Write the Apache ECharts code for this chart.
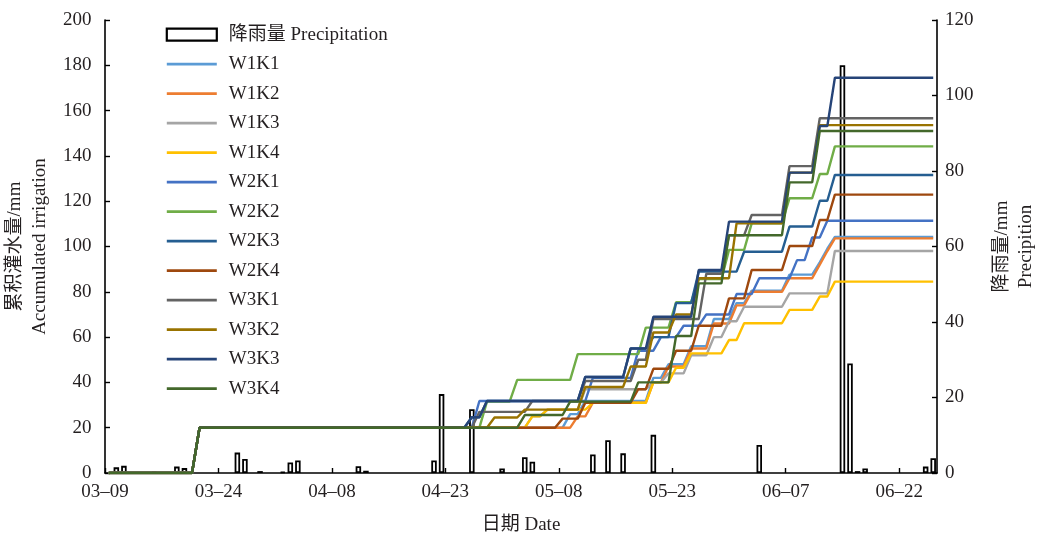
<!DOCTYPE html>
<html>
<head>
<meta charset="utf-8">
<script src="https://cdn.jsdelivr.net/npm/echarts@6.0.0/dist/echarts.min.js"></script>
<style>
html,body{margin:0;padding:0;background:#fff;}
#chart{width:1044px;height:533px;}
</style>
</head>
<body>
<div id="chart"></div>
<script>
// ---------------- DATA ----------------
const startDate = '03-09';
const endDate = '06-26';
const xTickLabels = ['03\u201309','03\u201324','04\u201308','04\u201323','05\u201308','05\u201323','06\u201307','06\u201322'];
const tickStepDays = 15;

const precipDates = ['03-10','03-11','03-15','03-18','03-19','03-26','03-27','03-29','04-01','04-02','04-03','04-11','04-12','04-21','04-22','04-26','04-30','05-03','05-04','05-12','05-14','05-16','05-20','06-03','06-14','06-15','06-16','06-17','06-25','06-26'];
const precipValues = [1.5,1.9,0.3,1.7,1.3,5.4,3.7,0.5,0.3,2.8,3.3,1.8,0.6,3.3,20.9,16.9,1.2,4.2,3.0,4.9,8.7,5.2,10.1,7.4,108,29,0.5,1.2,1.7,3.9];

// cumulative irrigation: [date of new level, new level]; starts at 0
const W1K1 = [['03-21',20],['05-09',26],['05-11',31.8],['05-20',42],['05-22',48],['05-25',56],['05-28',68],['05-31',75],['06-02',80.5],['06-07',87.6],['06-11',93],['06-12',99],['06-13',104.2]];
const W1K2 = [['03-21',20],['05-10',25],['05-12',31],['05-20',40],['05-22',47],['05-25',55],['05-28',66],['05-31',74],['06-02',80],['06-07',86],['06-11',92],['06-12',98],['06-13',103.6]];
const W1K3 = [['03-21',20],['05-04',25],['05-06',28],['05-11',37],['05-20',40],['05-22',44],['05-25',52],['05-28',60],['05-30',67],['06-01',73.4],['06-07',79.3],['06-13',98]];
const W1K4 = [['03-21',20],['05-04',25],['05-06',28],['05-12',31],['05-20',40],['05-23',46.5],['05-25',52.8],['05-30',58.7],['06-01',66.1],['06-07',72],['06-11',77.9],['06-13',84.5]];
const W2K1 = [['03-21',20],['04-27',31.8],['05-12',42],['05-18',54],['05-21',60],['05-24',65],['05-27',70],['05-31',79],['06-03',86],['06-08',94],['06-10',104],['06-12',111.4]];
const W2K2 = [['03-21',20],['04-28',31.5],['05-02',41.1],['05-10',52.5],['05-19',64.2],['05-23',75.4],['05-26',85.6],['05-30',98.5],['06-02',110.2],['06-07',121.3],['06-11',132],['06-13',144.2]];
const W2K3 = [['03-21',20],['04-26',24.6],['04-28',31.8],['05-11',42.4],['05-17',55],['05-20',60],['05-23',75],['05-26',88.9],['06-01',97.7],['06-07',108.8],['06-11',120.2],['06-13',131.6]];
const W2K4 = [['03-21',20],['05-08',24],['05-11',31],['05-18',37],['05-20',46],['05-23',54],['05-26',65],['05-30',77.1],['06-02',89.6],['06-07',100.2],['06-11',111.7],['06-13',122.9]];
const W3K1 = [['03-21',20],['04-27',27],['05-04',31.8],['05-11',40.6],['05-18',50],['05-20',68],['05-27',88],['05-30',105],['06-02',113.9],['06-07',135.5],['06-11',156.6]];
const W3K2 = [['03-21',20],['04-29',24.5],['05-03',28],['05-11',38],['05-17',47],['05-20',62],['05-23',70],['05-26',86],['05-31',110.2],['06-07',132.6],['06-11',153.6]];
const W3K3 = [['03-21',20],['04-26',24.6],['04-28',31.8],['05-11',42.4],['05-17',55],['05-20',69],['05-26',89.6],['05-30',111],['06-07',132.6],['06-11',153.2],['06-13',174.5]];
const W3K4 = [['03-21',20],['05-03',25.6],['05-09',31.5],['05-18',40],['05-23',60.5],['05-26',83.7],['05-30',105],['06-07',128.3],['06-11',151]];

const lineNames = ['W1K1','W1K2','W1K3','W1K4','W2K1','W2K2','W2K3','W2K4','W3K1','W3K2','W3K3','W3K4'];
const lineData = [W1K1,W1K2,W1K3,W1K4,W2K1,W2K2,W2K3,W2K4,W3K1,W3K2,W3K3,W3K4];
const lineColors = ['#5B9BD5','#ED7D31','#A5A5A5','#FFC000','#4472C4','#70AD47','#255E91','#9E480E','#636363','#997300','#264478','#43682B'];
const precipName = '降雨量 Precipitation';

// ---------------- HELPERS ----------------
function dayIndex(md){
  const [m,d] = md.split('-').map(Number);
  const [m0,d0] = startDate.split('-').map(Number);
  return Math.round((Date.UTC(2001,m-1,d) - Date.UTC(2001,m0-1,d0)) / 86400000);
}
const lastDay = dayIndex(endDate);
function stepPoints(changes){
  const pts = [[0.5,0]];
  let prev = 0;
  changes.forEach(([md,v])=>{
    const k = dayIndex(md);
    pts.push([k-1+0.5, prev]);
    pts.push([k+0.5, v]);
    prev = v;
  });
  pts.push([lastDay+0.5, prev]);
  return pts;
}

const FONT = '"Liberation Serif","Times New Roman","Noto Sans CJK SC",serif';
const TXT = '#231f20';
const LEGEND_LINE_ICON = 'path://M0,0H50V2.8H0Z';

const series = [{
  name: precipName,
  type: 'bar',
  yAxisIndex: 1,
  barWidth: 5.5,
  itemStyle: {color:'#ffffff', borderColor:'#000000', borderWidth:1.8},
  data: precipDates.map((d,i)=>[dayIndex(d)+0.5, precipValues[i]]),
  z: 1
}];
lineNames.forEach((n,i)=>{
  series.push({
    name:n, type:'line', symbol:'none', showSymbol:false,
    lineStyle:{width:2.4, color:lineColors[i]},
    itemStyle:{color:lineColors[i]},
    data: stepPoints(lineData[i]),
    z: 2+i
  });
});

const chart = echarts.init(document.getElementById('chart'), null, {renderer:'canvas'});
chart.setOption({
  animation:false,
  backgroundColor:'#ffffff',
  grid:{left:105, right:107, top:20, bottom:60, containLabel:false, outerBoundsMode:'none'},
  legend:{
    orient:'vertical', left:160.7, top:19.7,
    itemWidth:50, itemHeight:12, itemGap:9.5, symbolKeepAspect:true,
    textStyle:{fontFamily:FONT, fontSize:19, color:TXT, lineHeight:20, padding:[0,0,0,7]},
    data:[{name:precipName, icon:'rect', itemStyle:{color:'#fff', borderColor:'#000', borderWidth:2.2}}]
      .concat(lineNames.map((n,i)=>({name:n, icon:LEGEND_LINE_ICON, itemStyle:{color:lineColors[i], borderWidth:0}})))
  },
  xAxis:{
    type:'value', min:0, max:110, interval:tickStepDays,
    name:'日期 Date', nameLocation:'middle', nameGap:43,
    nameTextStyle:{fontFamily:FONT, fontSize:19, color:TXT},
    axisLine:{show:true, onZero:false, lineStyle:{color:'#000', width:1.6}},
    axisTick:{show:true, inside:true, length:5, lineStyle:{color:'#000', width:1.4}},
    splitLine:{show:false},
    axisLabel:{margin:10, fontFamily:FONT, fontSize:19, color:TXT, showMaxLabel:false,
      formatter:(v)=>{ const i = Math.round(v/tickStepDays); return (Math.abs(v - i*tickStepDays)<1e-6 && xTickLabels[i]) ? xTickLabels[i] : ''; }}
  },
  yAxis:[{
    type:'value', min:0, max:200, interval:20, position:'left',
    name:'累积灌水量/mm\nAccumulated irrigation', nameLocation:'middle', nameGap:43, nameRotate:90,
    nameTextStyle:{fontFamily:FONT, fontSize:19, color:TXT, lineHeight:25},
    axisLine:{show:true, lineStyle:{color:'#000', width:1.6}},
    axisTick:{show:true, inside:true, length:5, lineStyle:{color:'#000', width:1.4}},
    splitLine:{show:false},
    axisLabel:{margin:13.5, fontFamily:FONT, fontSize:19, color:TXT}
  },{
    type:'value', min:0, max:120, interval:20, position:'right',
    name:'降雨量/mm\nPrecipition', nameLocation:'middle', nameGap:53.5, nameRotate:90,
    nameTextStyle:{fontFamily:FONT, fontSize:19, color:TXT, lineHeight:24},
    axisLine:{show:true, lineStyle:{color:'#000', width:1.6}},
    axisTick:{show:true, inside:true, length:5, lineStyle:{color:'#000', width:1.4}},
    splitLine:{show:false},
    axisLabel:{margin:8, fontFamily:FONT, fontSize:19, color:TXT}
  }],
  series: series
});
</script>
</body>
</html>
